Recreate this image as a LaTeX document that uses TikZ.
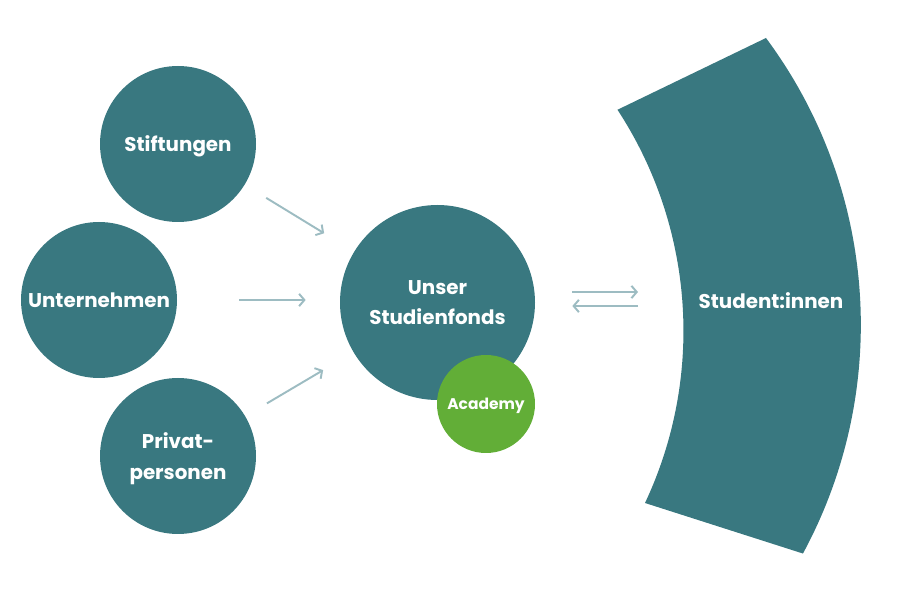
\documentclass[tikz,border=0pt]{standalone}
\usepackage{fontspec}
\setmainfont{Poppins}
\usetikzlibrary{arrows.meta,calc}
\definecolor{fondsteal}{RGB}{57,120,128}
\definecolor{academygreen}{RGB}{98,174,55}
\definecolor{linkgrey}{RGB}{157,188,194}

\begin{document}
\begin{tikzpicture}[x=2cm, y=2cm,
  bubble/.style={circle, fill=fondsteal, text=white, align=center, inner sep=0pt,
    text depth=0pt, font=\bfseries\fontsize{11.3}{17.5}\selectfont},
  link/.style={draw=linkgrey, line width=1.1pt, -{Straight Barb[length=3pt,width=7pt]}}]

\useasboundingbox (0, 0) rectangle (9, 6);

% donors
\node[bubble, minimum size=3.12cm] (stift) at (1.78, 4.56) {Stiftungen};
\node[bubble, minimum size=3.12cm] (unter) at (0.99, 3.00) {Unternehmen};
\node[bubble, minimum size=3.12cm] (privat) at (1.78, 1.44) {Privat-\\personen};

% fund
\node[bubble, minimum size=3.9cm] (fonds) at (4.375, 2.975) {Unser\\Studienfonds};
\node[bubble, fill=academygreen, minimum size=1.96cm, font=\bfseries\fontsize{8.8}{10}\selectfont] (academy) at (4.86, 1.96) {Academy};

% students
\fill[fondsteal] (6.17, 4.90) -- (7.66, 5.62) arc[start angle=36.6, end angle=-28.4, radius=4.81]
  -- (6.45, 0.97) arc[start angle=-25.2, end angle=33.2, radius=4.04] -- cycle;
\node[text=white, text depth=0pt, font=\bfseries\fontsize{11.3}{17.5}\selectfont] (stud) at (7.71, 2.99) {Student:innen};
\coordinate (inner) at (6.82, 2.975);

% arrows
\draw[link, shorten <=0.5cm, shorten >=0.7cm] (stift) -- (fonds);
\draw[link, shorten <=1.24cm, shorten >=0.68cm] (unter) -- (unter -| fonds.west);
\draw[link, shorten <=0.5cm, shorten >=0.7cm] (privat) -- (fonds);
\draw[link, shorten <=0.74cm, shorten >=0.88cm] ($(fonds.east)+(0, 0.105)$) -- ($(inner)+(0, 0.105)$);
\draw[link, shorten <=0.88cm, shorten >=0.74cm] ($(inner)+(0, -0.035)$) -- ($(fonds.east)+(0, -0.035)$);

\end{tikzpicture}
\end{document}
